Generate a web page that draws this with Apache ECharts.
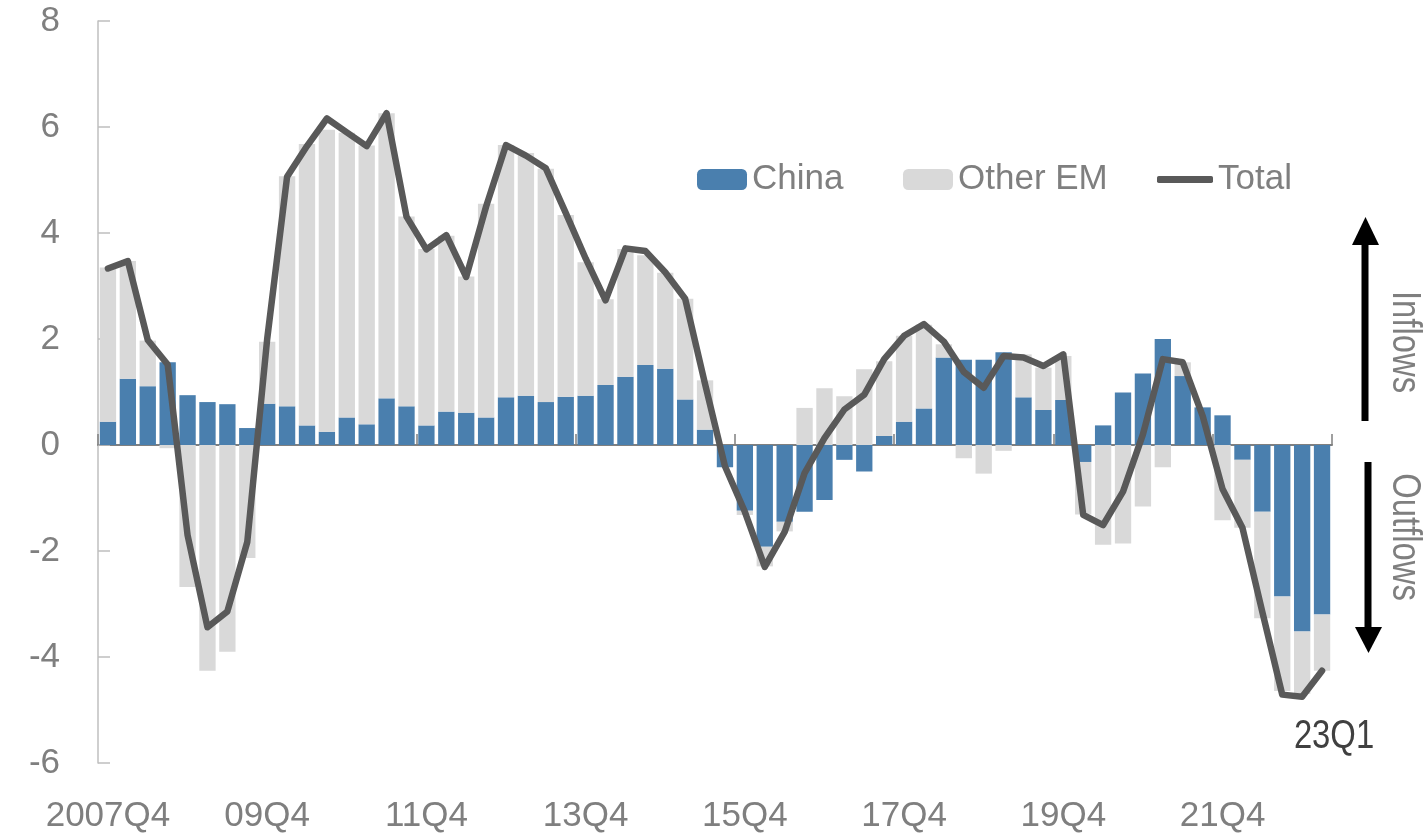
<!DOCTYPE html>
<html>
<head>
<meta charset="utf-8">
<title>EM capital flows: China vs other EM</title>
<script src="https://cdn.jsdelivr.net/npm/echarts@6/dist/echarts.min.js"></script>
<style>
  html, body { margin: 0; padding: 0; background: #ffffff; }
  #chart { width: 1425px; height: 836px; }
</style>
</head>
<body>
<div id="chart"></div>
<script>
// Quarterly periods, 2007Q4 .. 2023Q1
const quarters = [];
for (let y = 2007; y <= 2023; y++) {
  for (let q = 1; q <= 4; q++) {
    if ((y === 2007 && q < 4) || (y === 2023 && q > 1)) continue;
    quarters.push(y + 'Q' + q);
  }
}

// Labels shown on the category axis (every 8th quarter)
const tickLabels = {
  '2007Q4': '2007Q4', '2009Q4': '09Q4', '2011Q4': '11Q4', '2013Q4': '13Q4',
  '2015Q4': '15Q4', '2017Q4': '17Q4', '2019Q4': '19Q4', '2021Q4': '21Q4'
};

// Flows, % of GDP
const china = [
  0.44, 1.25, 1.11, 1.56, 0.94, 0.81, 0.77, 0.32, 0.78, 0.73,
  0.37, 0.25, 0.52, 0.39, 0.88, 0.73, 0.37, 0.63, 0.61, 0.52,
  0.90, 0.93, 0.81, 0.91, 0.93, 1.13, 1.29, 1.51, 1.44, 0.86,
  0.29, -0.42, -1.24, -1.92, -1.45, -1.26, -1.04, -0.28, -0.50, 0.17,
  0.44, 0.69, 1.65, 1.61, 1.61, 1.75, 0.90, 0.66, 0.85, -0.32,
  0.37, 0.99, 1.35, 2.00, 1.30, 0.71, 0.56, -0.28, -1.26, -2.86,
  -3.52, -3.20
];

const otherEM = [
  2.91, 2.22, 0.86, -0.06, -2.68, -4.26, -3.90, -2.13, 1.17, 4.34,
  5.31, 5.70, 5.37, 5.26, 5.38, 3.58, 3.33, 3.32, 2.57, 4.03,
  4.76, 4.58, 4.40, 3.43, 2.52, 1.62, 2.41, 2.07, 1.81, 1.90,
  0.93, 0.00, -0.08, -0.37, -0.18, 0.70, 1.07, 0.92, 1.43, 1.41,
  1.62, 1.58, 0.25, -0.25, -0.54, -0.11, 0.81, 0.80, 0.83, -0.99,
  -1.88, -1.86, -1.16, -0.42, 0.26, 0.00, -1.42, -1.28, -2.01, -1.78,
  -1.18, -1.06
];

const total = [
  3.33, 3.47, 1.98, 1.52, -1.70, -3.44, -3.14, -1.83, 2.00, 5.06,
  5.64, 6.16, 5.90, 5.64, 6.26, 4.31, 3.69, 3.96, 3.17, 4.50,
  5.66, 5.46, 5.22, 4.38, 3.52, 2.73, 3.71, 3.66, 3.26, 2.76,
  1.15, -0.40, -1.26, -2.30, -1.64, -0.53, 0.13, 0.67, 0.95, 1.62,
  2.06, 2.28, 1.95, 1.38, 1.08, 1.68, 1.65, 1.49, 1.71, -1.32,
  -1.51, -0.88, 0.20, 1.62, 1.56, 0.55, -0.83, -1.56, -3.15, -4.71,
  -4.75, -4.26
];

const yTicks = { min: -6, max: 8, step: 2 };

const FONT = "'Liberation Sans',Arial,sans-serif";
const FS = 35;
const GREY_TEXT = '#7f7f7f';
const BLUE = '#4a7fae';
const LIGHT = '#d9d9d9';
const LINE = '#595959';

const chart = echarts.init(document.getElementById('chart'), null, { renderer: 'canvas' });

const legendBase = {
  orient: 'horizontal',
  top: 157,
  itemWidth: 50,
  itemHeight: 21,
  textStyle: { fontFamily: FONT, fontSize: FS, color: GREY_TEXT },
  selectedMode: false
};

chart.setOption({
  backgroundColor: '#ffffff',
  animation: false,
  textStyle: { fontFamily: FONT },
  grid: { left: 98, right: 93, top: 21, bottom: 73, containLabel: false },
  legend: [
    Object.assign({}, legendBase, { left: 692, data: ['China'] }),
    Object.assign({}, legendBase, { left: 898, data: ['Other EM'] }),
    Object.assign({}, legendBase, {
      left: 1152, itemWidth: 56, itemHeight: 7,
      data: [{ name: 'Total', icon: 'roundRect' }]
    })
  ],
  xAxis: [
    {
      type: 'category',
      data: quarters,
      position: 'bottom',
      boundaryGap: true,
      axisLine: { show: false, onZero: false },
      axisTick: { show: false },
      axisLabel: {
        interval: 7,
        margin: 36,
        fontFamily: FONT,
        fontSize: FS,
        color: GREY_TEXT,
        formatter: v => tickLabels[v] || ''
      },
      splitLine: { show: false }
    },
    {
      type: 'category',
      data: quarters,
      position: 'top',
      boundaryGap: true,
      axisLine: { show: true, onZero: true, onZeroAxisIndex: 0, lineStyle: { color: '#808080', width: 2 } },
      axisTick: { show: true, inside: false, interval: 7, length: 11, lineStyle: { color: '#808080', width: 1.5 } },
      axisLabel: { show: false },
      splitLine: { show: false }
    }
  ],
  yAxis: {
    type: 'value',
    min: yTicks.min,
    max: yTicks.max,
    interval: yTicks.step,
    axisLine: { show: true, lineStyle: { color: '#bfbfbf', width: 1.5 } },
    axisTick: { show: true, inside: true, length: 12, lineStyle: { color: '#bfbfbf', width: 1.5 } },
    axisLabel: { margin: 38, fontFamily: FONT, fontSize: FS, color: GREY_TEXT },
    splitLine: { show: false }
  },
  series: [
    {
      name: 'China',
      type: 'bar',
      stack: 'flows',
      data: china,
      barCategoryGap: '18%',
      itemStyle: { color: BLUE },
      z: 2
    },
    {
      name: 'Other EM',
      type: 'bar',
      stack: 'flows',
      data: otherEM,
      barCategoryGap: '18%',
      itemStyle: { color: LIGHT },
      z: 2
    },
    {
      name: 'Total',
      type: 'line',
      data: total,
      symbol: 'none',
      showSymbol: false,
      lineStyle: { color: LINE, width: 6.5, cap: 'round', join: 'round' },
      itemStyle: { color: LINE },
      z: 5
    }
  ],
  graphic: [
    // inflows arrow (up)
    { type: 'line', shape: { x1: 1365, y1: 421, x2: 1365, y2: 240 }, style: { stroke: '#000', lineWidth: 7 } },
    { type: 'polygon', shape: { points: [[1352, 245], [1379, 245], [1365.5, 217]] }, style: { fill: '#000' } },
    // outflows arrow (down)
    { type: 'line', shape: { x1: 1368, y1: 462, x2: 1368, y2: 630 }, style: { stroke: '#000', lineWidth: 7 } },
    { type: 'polygon', shape: { points: [[1355, 627], [1382, 627], [1368.5, 653]] }, style: { fill: '#000' } },
    {
      type: 'text', x: 1404, y: 342, rotation: -Math.PI / 2, scaleX: 0.82,
      style: { text: 'Inflows', font: '40px ' + FONT, fill: GREY_TEXT, align: 'center', verticalAlign: 'middle' }
    },
    {
      type: 'text', x: 1404, y: 537, rotation: -Math.PI / 2, scaleX: 0.82,
      style: { text: 'Outflows', font: '40px ' + FONT, fill: GREY_TEXT, align: 'center', verticalAlign: 'middle' }
    },
    {
      type: 'text', x: 1334, y: 737, scaleX: 0.82,
      style: { text: '23Q1', font: '40px ' + FONT, fill: '#404040', align: 'center', verticalAlign: 'middle' }
    }
  ]
});
</script>
</body>
</html>
